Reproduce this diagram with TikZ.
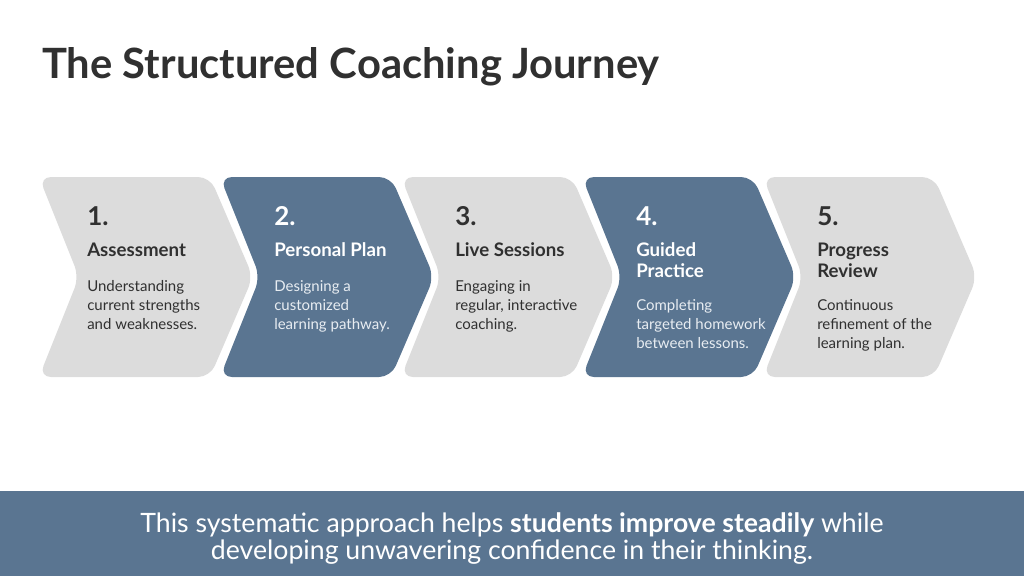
\documentclass[tikz,border=0pt]{standalone}
\usepackage{fontspec}
\setmainfont{Lato}
\usetikzlibrary{positioning}

\definecolor{stepblue}{HTML}{5A7591}
\definecolor{stepgray}{HTML}{DCDCDC}
\definecolor{inkdark}{HTML}{303030}
\definecolor{inklight}{HTML}{E8EDF2}

\tikzstyle{chevron}=[rounded corners=9pt]
\tikzstyle{numtext}=[anchor=base west, inner sep=0pt, font=\bfseries\fontsize{19.5}{22}\selectfont]
\tikzstyle{headtext}=[anchor=base west, inner sep=0pt, align=left, font=\bfseries\fontsize{14}{15.75}\selectfont]
\tikzstyle{bodytext}=[anchor=base west, inner sep=0pt, align=left, font=\fontsize{11.25}{14.25}\selectfont]

\begin{document}
\begin{tikzpicture}[x=0.75pt, y=-0.75pt]
\useasboundingbox (0,0) rectangle (1024,576);

\node (title) [anchor=base west, inner sep=0pt, text=inkdark,
  font=\bfseries\fontsize{31.3}{37}\selectfont] at (42,78) {The Structured Coaching Journey};

% the five steps (base = last line of each text)
\foreach \i/\clr/\ink/\sub/\head/\body/\hy/\by in {
  1/stepgray/inkdark/inkdark/{Assessment}/{Understanding\\current strengths\\and weaknesses.}/256/329,
  2/stepblue/white/inklight/{Personal Plan}/{Designing a\\customized\\learning pathway.}/256/329,
  3/stepgray/inkdark/inkdark/{Live Sessions}/{Engaging in\\regular, interactive\\coaching.}/256/329,
  4/stepblue/white/inklight/{Guided\\Practice}/{Completing\\targeted homework\\between lessons.}/277/348,
  5/stepgray/inkdark/inkdark/{Progress\\Review}/{Continuous\\refinement of the\\learning plan.}/277/348}
{
  \pgfmathsetmacro\L{39+181*(\i-1)}
  \pgfmathsetmacro\tx{\i==1 ? \L+48 : \L+54}
  \fill[chevron, \clr] (\L,177) -- ++(171,0) -- ++(43,100) -- ++(-43,100)
    -- ++(-171,0) -- ++(40,-100) -- cycle;
  \node (num\i) [numtext, text=\ink] at (\tx,225) {\i.};
  \node (head\i) [headtext, text=\ink] at (\tx,\hy) {\head};
  \node (body\i) [bodytext, text=\sub] at (\tx,\by) {\body};
}

% summary banner
\fill[stepblue] (0,491) rectangle (1024,576);
\node (summary) [align=center, text=white, inner sep=0pt,
  font=\fontsize{20}{20.25}\selectfont] at (512,539)
  {This systematic approach helps \textbf{students improve steadily} while\\
   developing unwavering confidence in their thinking.};

\end{tikzpicture}
\end{document}
